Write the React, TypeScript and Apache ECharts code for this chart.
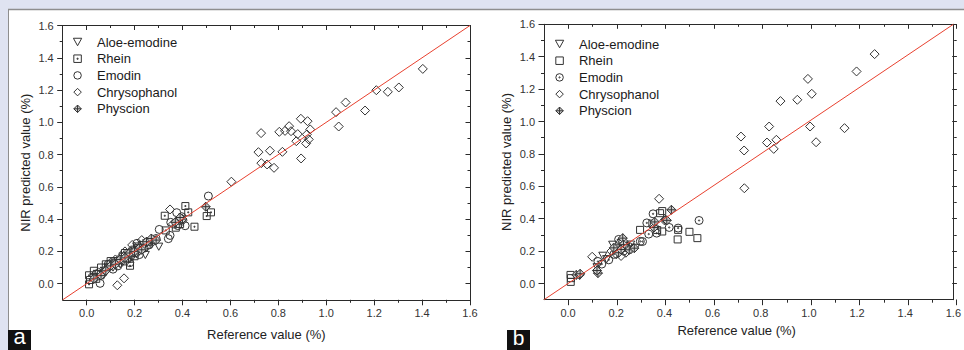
import React, { useEffect, useRef } from "react";
import * as echarts from "echarts";

// ---------- data ----------
const seriesNames = ["Aloe-emodine", "Rhein", "Emodin", "Chrysophanol", "Physcion"];
const majorTicks = [0, 0.2, 0.4, 0.6, 0.8, 1.0, 1.2, 1.4, 1.6];
const axisMin = -0.1;
const axisMax = 1.6;
const majorStep = 0.2;
const minorStep = 0.1;
const xAxisName = "Reference value (%)";
const yAxisName = "NIR predicted value (%)";
const panelLabels = ["a", "b"];

// Panel a
const aAloe = [
  [0.03, 0.04], [0.05, 0.06], [0.07, 0.05], [0.09, 0.1], [0.11, 0.1], [0.13, 0.14], [0.15, 0.13],
  [0.17, 0.18], [0.19, 0.16], [0.2, 0.21], [0.22, 0.2], [0.245, 0.178], [0.25, 0.25], [0.27, 0.26],
  [0.301, 0.229], [0.18, 0.15], [0.21, 0.23], [0.14, 0.12],
];
const aRhein = [
  [0.01, 0.052], [0.01, -0.004], [0.014, 0.023], [0.03, 0.08], [0.06, 0.1], [0.08, 0.12], [0.1, 0.14],
  [0.12, 0.13], [0.15, 0.17], [0.181, 0.111], [0.19, 0.2], [0.21, 0.22], [0.23, 0.24], [0.26, 0.26],
  [0.28, 0.27], [0.33, 0.33], [0.326, 0.421], [0.372, 0.347], [0.412, 0.481], [0.424, 0.442],
  [0.45, 0.353], [0.501, 0.419], [0.519, 0.442], [0.39, 0.37], [0.16, 0.19], [0.04, 0.03], [0.2, 0.17],
];
const aEmodin = [
  [0.056, 0.002], [0.04, 0.06], [0.07, 0.07], [0.09, 0.12], [0.11, 0.09], [0.13, 0.11], [0.16, 0.14],
  [0.18, 0.13], [0.2, 0.19], [0.22, 0.18], [0.24, 0.22], [0.26, 0.24], [0.29, 0.28], [0.303, 0.336],
  [0.341, 0.279], [0.348, 0.299], [0.351, 0.38], [0.376, 0.44], [0.397, 0.415], [0.411, 0.359],
  [0.38, 0.36], [0.508, 0.543], [0.17, 0.16], [0.21, 0.25],
];
const aChryso = [
  [1.403, 1.331], [1.209, 1.199], [1.257, 1.189], [1.303, 1.216], [1.081, 1.123], [1.041, 1.063],
  [1.052, 0.974], [1.162, 1.073], [0.894, 1.022], [0.922, 1.007], [0.933, 0.956], [0.845, 0.976],
  [0.828, 0.947], [0.804, 0.941], [0.853, 0.945], [0.881, 0.927], [0.875, 0.883], [0.916, 0.869],
  [0.927, 0.894], [0.919, 0.925], [0.895, 0.776], [0.817, 0.817], [0.765, 0.824], [0.717, 0.815],
  [0.728, 0.933], [0.729, 0.747], [0.753, 0.739], [0.782, 0.718], [0.604, 0.632], [0.348, 0.46],
  [0.128, -0.01], [0.156, 0.033], [0.05, 0.07], [0.08, 0.09], [0.1, 0.13], [0.12, 0.15], [0.14, 0.16],
  [0.16, 0.2], [0.19, 0.24], [0.21, 0.19], [0.23, 0.27], [0.25, 0.23], [0.27, 0.25], [0.36, 0.37],
  [0.4, 0.39],
];
const aPhyscion = [
  [0.03, 0.03], [0.06, 0.05], [0.08, 0.08], [0.1, 0.11], [0.12, 0.12], [0.14, 0.15], [0.16, 0.16],
  [0.18, 0.19], [0.2, 0.2], [0.22, 0.22], [0.23, 0.21], [0.25, 0.26], [0.27, 0.28], [0.29, 0.27],
  [0.37, 0.38], [0.4, 0.4], [0.497, 0.477], [0.39, 0.41],
];

// Panel b
const bAloe = [
  [0.144, 0.171], [0.185, 0.239], [0.24, 0.228], [0.16, 0.15], [0.2, 0.22], [0.22, 0.25],
  [0.26, 0.24], [0.12, 0.1], [0.28, 0.22],
];
const bRhein = [
  [0.01, 0.053], [0.011, 0.01], [0.012, 0.033], [0.299, 0.331], [0.382, 0.434], [0.391, 0.447],
  [0.391, 0.321], [0.455, 0.272], [0.457, 0.331], [0.504, 0.319], [0.537, 0.28], [0.2, 0.21],
  [0.24, 0.22], [0.35, 0.37], [0.37, 0.33],
];
const bEmodin = [
  [0.124, 0.136], [0.169, 0.146], [0.21, 0.272], [0.309, 0.259], [0.335, 0.305], [0.368, 0.311],
  [0.327, 0.374], [0.353, 0.43], [0.42, 0.346], [0.457, 0.342], [0.544, 0.389], [0.3, 0.26],
  [0.19, 0.18], [0.23, 0.2], [0.14, 0.12], [0.25, 0.23],
];
const bChryso = [
  [1.273, 1.416], [1.198, 1.309], [0.996, 1.263], [1.012, 1.171], [0.952, 1.134], [0.882, 1.126],
  [0.835, 0.969], [1.005, 0.969], [1.148, 0.959], [1.03, 0.872], [0.826, 0.87], [0.865, 0.887],
  [0.854, 0.831], [0.718, 0.907], [0.731, 0.821], [0.732, 0.588], [0.378, 0.523], [0.1, 0.165],
  [0.2, 0.18], [0.22, 0.17], [0.24, 0.19], [0.26, 0.21], [0.18, 0.2], [0.36, 0.35], [0.4, 0.39],
  [0.23, 0.26],
];
const bPhyscion = [
  [0.034, 0.053], [0.048, 0.053], [0.05, 0.06], [0.124, 0.064], [0.12, 0.08], [0.227, 0.28],
  [0.254, 0.208], [0.275, 0.218], [0.357, 0.346], [0.405, 0.393], [0.429, 0.455], [0.21, 0.19],
  [0.23, 0.24], [0.22, 0.21], [0.19, 0.22], [0.41, 0.39], [0.36, 0.38],
];

const identityLine = [
  [axisMin, axisMin],
  [axisMax, axisMax],
];

// ---------- styling ----------
const FONT = "'Liberation Sans', Arial, sans-serif";
const INK = "#2a2a2a";
const LAVENDER = "#dfe3f1";

const SYM_TRI_DOWN = "path://M0,0 L10,0 L5,9 Z";
const SYM_SQUARE = "path://M0,0 L10,0 L10,10 L0,10 Z";
const SYM_SQUARE_DOT = "path://M0,0 L10,0 L10,10 L0,10 Z M4.3,4.3 L5.7,4.3 L5.7,5.7 L4.3,5.7 Z";
const SYM_CIRCLE = "path://M0,5 A5,5 0 1,1 10,5 A5,5 0 1,1 0,5 Z";
const SYM_CIRCLE_DOT =
  "path://M0,5 A5,5 0 1,1 10,5 A5,5 0 1,1 0,5 Z M4.2,5 A0.8,0.8 0 1,1 5.8,5 A0.8,0.8 0 1,1 4.2,5 Z";
const SYM_DIAMOND = "path://M5,0 L10,5 L5,10 L0,5 Z";
const SYM_DIAMOND_CROSS = "path://M5,0 L10,5 L5,10 L0,5 Z M5,0 L5,10 M0,5 L10,5";

const symbolsA = [SYM_TRI_DOWN, SYM_SQUARE_DOT, SYM_CIRCLE, SYM_DIAMOND, SYM_DIAMOND_CROSS];
const symbolsB = [SYM_TRI_DOWN, SYM_SQUARE, SYM_CIRCLE_DOT, SYM_DIAMOND, SYM_DIAMOND_CROSS];
const sizes = [8, 7, 8, 9, 9];
const fills = ["rgba(255,255,255,0)", "rgba(255,255,255,0)", "rgba(255,255,255,0)", "rgba(255,255,255,0)", "#cfcfcf"];

const panelBoxes = [
  { left: 62.7, top: 25.5, width: 407.3, height: 274.3, xNameGap: 28.5, xNamePad: 0 },
  { left: 544, top: 24.3, width: 412.7, height: 275.4, xNameGap: 23, xNamePad: 24 },
];
const MAJOR_OUT = 5.5;
const MINOR_OUT = 3;
const MAJOR_IN = 4.5;
const MINOR_IN = 2.5;

const labelStyle = { fontFamily: FONT, fontSize: 11, color: "#333" };

function scatter(name: string, data: number[][], xi: number, yi: number, symbol: string, size: number, fill: string) {
  return {
    type: "scatter",
    name,
    xAxisIndex: xi,
    yAxisIndex: yi,
    data,
    symbol,
    symbolSize: size,
    symbolKeepAspect: true,
    z: 3,
    itemStyle: { color: fill, borderColor: "#333", borderWidth: 1, opacity: 1 },
  };
}

function buildOption() {
  const grids: any[] = [];
  const xAxes: any[] = [];
  const yAxes: any[] = [];
  const series: any[] = [];

  const plainAxis = (gridIndex: number, position: string, extra: any) => ({
    type: "value",
    gridIndex,
    min: axisMin,
    max: axisMax,
    interval: minorStep,
    position,
    axisLine: { show: true, onZero: false, lineStyle: { color: INK, width: 1 } },
    axisTick: { show: false },
    minorTick: { show: false },
    axisLabel: { show: false },
    splitLine: { show: false },
    ...extra,
  });

  // a thin grid whose split lines act as axis ticks
  const tickStrip = (rect: any, dir: "x" | "y", min: number, max: number, interval: number, showMin: boolean) => {
    grids.push({ ...rect, containLabel: false });
    const gi = grids.length - 1;
    const lines = {
      type: "value",
      gridIndex: gi,
      min,
      max,
      interval,
      axisLine: { show: false, onZero: false },
      axisTick: { show: false },
      axisLabel: { show: false },
      splitLine: { show: true, showMinLine: showMin, showMaxLine: true, lineStyle: { color: INK, width: 1, type: "solid" } },
    };
    const hidden = { type: "value", gridIndex: gi, show: false, min: 0, max: 1, splitLine: { show: false } };
    if (dir === "x") {
      xAxes.push(lines);
      yAxes.push(hidden);
    } else {
      xAxes.push(hidden);
      yAxes.push(lines);
    }
  };

  const panelData = [
    [aAloe, aRhein, aEmodin, aChryso, aPhyscion],
    [bAloe, bRhein, bEmodin, bChryso, bPhyscion],
  ];
  const panelSymbols = [symbolsA, symbolsB];

  panelBoxes.forEach((b, pi) => {
    grids.push({ left: b.left, top: b.top, width: b.width, height: b.height, containLabel: false });
    const gi = grids.length - 1;
    const xi = xAxes.length;
    xAxes.push(
      plainAxis(gi, "bottom", {
        axisLabel: { show: true, customValues: majorTicks, margin: 8, ...labelStyle, formatter: (v: number) => v.toFixed(1) },
        name: xAxisName,
        nameLocation: "middle",
        nameGap: b.xNameGap,
        nameTextStyle: { fontFamily: FONT, fontSize: 13, color: "#222", padding: [0, b.xNamePad, 0, 0] },
      })
    );
    xAxes.push(plainAxis(gi, "top", {}));
    const yi = yAxes.length;
    yAxes.push(
      plainAxis(gi, "left", {
        axisLabel: { show: true, customValues: majorTicks, margin: 9, ...labelStyle, formatter: (v: number) => v.toFixed(1) },
        name: yAxisName,
        nameLocation: "middle",
        nameGap: 31,
        nameRotate: 90,
        nameTextStyle: { fontFamily: FONT, fontSize: 13, color: "#222" },
      })
    );
    yAxes.push(plainAxis(gi, "right", {}));

    panelData[pi].forEach((d, i) =>
      series.push(scatter(seriesNames[i], d, xi, yi, panelSymbols[pi][i], sizes[i], fills[i]))
    );
    series.push({
      type: "line",
      name: "identity " + pi,
      xAxisIndex: xi,
      yAxisIndex: yi,
      data: identityLine,
      symbol: "none",
      z: 4,
      lineStyle: { color: "#e8412f", width: 1 },
    });

    // tick strips: pixel span of the major range [0, 1.6] inside [-0.1, 1.6]
    const span = axisMax - axisMin;
    const mx0 = b.left + ((majorTicks[0] - axisMin) / span) * b.width;
    const mw = ((axisMax - majorTicks[0]) / span) * b.width;
    const mh = ((axisMax - majorTicks[0]) / span) * b.height;
    const bottom = b.top + b.height;
    const right = b.left + b.width;
    // bottom (outward)
    tickStrip({ left: b.left, top: bottom, width: b.width, height: MINOR_OUT }, "x", axisMin, axisMax, minorStep, false);
    tickStrip({ left: mx0, top: bottom, width: mw, height: MAJOR_OUT }, "x", majorTicks[0], axisMax, majorStep, true);
    // top (inward)
    tickStrip({ left: b.left, top: b.top, width: b.width, height: MINOR_IN }, "x", axisMin, axisMax, minorStep, false);
    tickStrip({ left: mx0, top: b.top, width: mw, height: MAJOR_IN }, "x", majorTicks[0], axisMax, majorStep, true);
    // left (outward)
    tickStrip({ left: b.left - MINOR_OUT, top: b.top, width: MINOR_OUT, height: b.height }, "y", axisMin, axisMax, minorStep, false);
    tickStrip({ left: b.left - MAJOR_OUT, top: b.top, width: MAJOR_OUT, height: mh }, "y", majorTicks[0], axisMax, majorStep, true);
    // right (inward)
    tickStrip({ left: right - MINOR_IN, top: b.top, width: MINOR_IN, height: b.height }, "y", axisMin, axisMax, minorStep, false);
    tickStrip({ left: right - MAJOR_IN, top: b.top, width: MAJOR_IN, height: mh }, "y", majorTicks[0], axisMax, majorStep, true);
  });

  const legendBase = {
    orient: "vertical",
    itemWidth: 28.8,
    itemHeight: 7.5,
    itemGap: 3.7,
    selectedMode: false,
    padding: 0,
    symbolKeepAspect: true,
    textStyle: { fontFamily: FONT, fontSize: 13, color: "#1a1a1a" },
  };
  const legendData = (symbols: string[]) =>
    seriesNames.map((n, i) => ({
      name: n,
      icon: symbols[i],
      itemStyle: { color: fills[i], borderColor: "#333", borderWidth: 1 },
    }));

  return {
    animation: false,
    backgroundColor: "#ffffff",
    grid: grids,
    xAxis: xAxes,
    yAxis: yAxes,
    legend: [
      { ...legendBase, left: 72.9, top: 35.5, data: legendData(symbolsA) },
      { ...legendBase, left: 554.9, top: 37.5, data: legendData(symbolsB) },
    ],
    graphic: [
      { type: "rect", silent: true, shape: { x: 0, y: 0, width: 964, height: 9 }, style: { fill: LAVENDER } },
      { type: "rect", silent: true, shape: { x: 0, y: 0, width: 8, height: 350 }, style: { fill: LAVENDER } },
      { type: "line", silent: true, shape: { x1: 8, y1: 9.5, x2: 964, y2: 9.5 }, style: { stroke: "#8e8e8e", lineWidth: 1.5 } },
      { type: "line", silent: true, shape: { x1: 8.5, y1: 9, x2: 8.5, y2: 350 }, style: { stroke: "#8e8e8e", lineWidth: 1 } },
      { type: "rect", silent: true, shape: { x: 8, y: 330, width: 23, height: 20 }, style: { fill: "#111111" } },
      {
        type: "text", silent: true, x: 19.5, y: 347,
        style: { text: panelLabels[0], fill: "#ffffff", font: `22px ${FONT}`, textAlign: "center", textVerticalAlign: "bottom" },
      },
      { type: "rect", silent: true, shape: { x: 507, y: 330, width: 23, height: 20 }, style: { fill: "#111111" } },
      {
        type: "text", silent: true, x: 518.5, y: 348,
        style: { text: panelLabels[1], fill: "#ffffff", font: `21px ${FONT}`, textAlign: "center", textVerticalAlign: "bottom" },
      },
    ],
    series,
  };
}

export default function App() {
  const ref = useRef<HTMLDivElement>(null);
  useEffect(() => {
    if (!ref.current) return;
    const chart = echarts.init(ref.current, undefined, { renderer: "svg" });
    chart.setOption(buildOption() as any);
    return () => chart.dispose();
  }, []);
  return <div ref={ref} style={{ position: "absolute", left: 0, top: 0, width: 964, height: 350 }} />;
}
